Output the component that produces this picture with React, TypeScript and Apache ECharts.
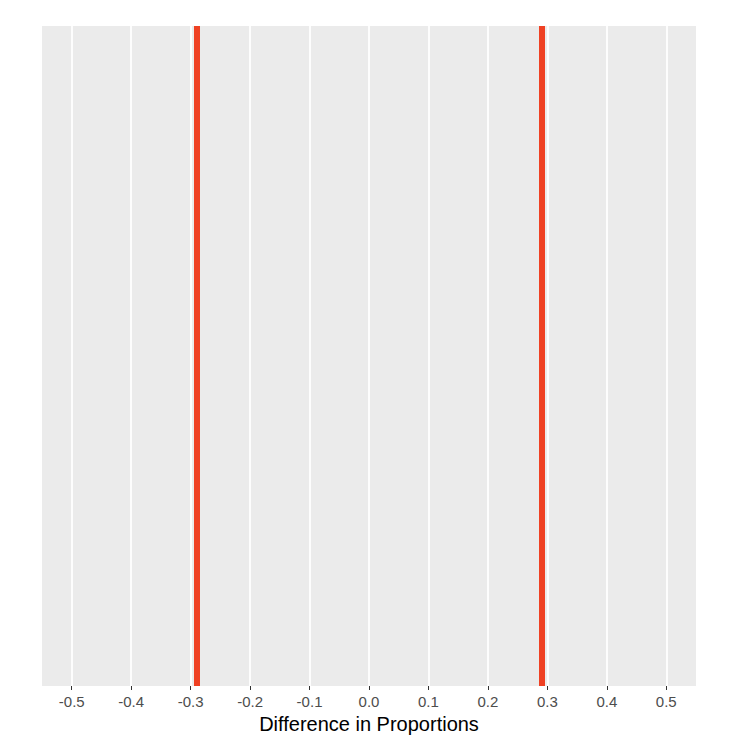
import React, { useEffect, useRef } from "react";
import * as echarts from "echarts";

const tickValues = [-0.5, -0.4, -0.3, -0.2, -0.1, 0.0, 0.1, 0.2, 0.3, 0.4, 0.5];
const ciBounds = [-0.292, 0.292];
const xRange = [-0.55, 0.55];
const axisTitle = "Difference in Proportions";

export default function App() {
  const ref = useRef<HTMLDivElement>(null);
  useEffect(() => {
    if (!ref.current) return;
    const chart = echarts.init(ref.current, undefined, { renderer: "svg" });
    chart.setOption({
      animation: false,
      grid: {
        left: 42,
        right: 44,
        top: 26,
        bottom: 64,
        show: true,
        backgroundColor: "#EBEBEB",
        borderWidth: 0,
      },
      xAxis: {
        type: "value",
        min: xRange[0],
        max: xRange[1],
        name: axisTitle,
        nameLocation: "middle",
        nameGap: 28,
        nameTextStyle: {
          fontFamily: "Liberation Sans, Arial, sans-serif",
          fontSize: 20,
          color: "#000000",
        },
        axisLine: { show: false },
        axisTick: {
          show: true,
          customValues: tickValues,
          length: 4,
          lineStyle: { color: "#333333", width: 1 },
        },
        axisLabel: {
          customValues: tickValues,
          margin: 8,
          fontFamily: "Liberation Sans, Arial, sans-serif",
          fontSize: 15,
          color: "#4D4D4D",
          formatter: (v: number) => v.toFixed(1),
        },
        splitLine: { show: false },
      },
      yAxis: {
        type: "value",
        min: 0,
        max: 1,
        show: false,
        splitLine: { show: false },
      },
      series: [
        {
          type: "scatter",
          data: [],
          silent: true,
          markLine: {
            silent: true,
            symbol: "none",
            label: { show: false },
            lineStyle: { color: "#FFFFFF", width: 1.8, type: "solid" },
            data: tickValues.map((v) => ({ xAxis: v })),
          },
        },
        {
          type: "scatter",
          data: [],
          silent: true,
          markLine: {
            silent: true,
            symbol: "none",
            label: { show: false },
            lineStyle: { color: "#EF4123", width: 6, type: "solid" },
            data: ciBounds.map((v) => ({ xAxis: v })),
          },
        },
      ],
    });
    return () => chart.dispose();
  }, []);
  return <div ref={ref} style={{ width: 740, height: 750, margin: -8 }} />;
}
